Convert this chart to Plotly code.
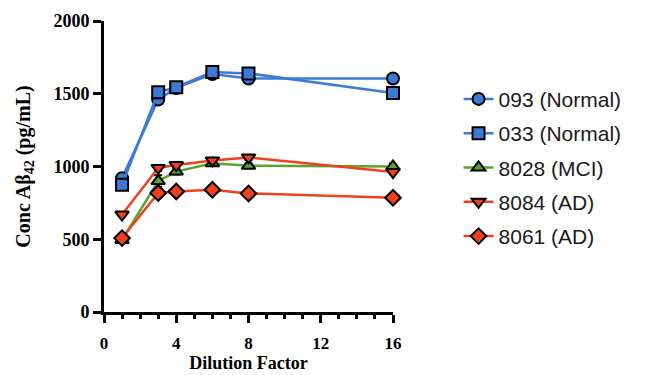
import plotly.graph_objects as go

x_vals = [1, 3, 4, 6, 8, 16]

s093 = [920, 1460, 1540, 1635, 1605, 1605]
s093_err = [15, 30, 10, 15, 15, 25]
s033 = [875, 1510, 1545, 1650, 1640, 1505]
s033_err = [10, 15, 10, 10, 10, 35]
s8028 = [495, 900, 965, 1022, 1005, 1000]
s8028_err = [10, 40, 20, 10, 15, 20]
s8084 = [670, 990, 1010, 1042, 1062, 962]
s8084_err = [10, 20, 15, 10, 15, 15]
s8061 = [508, 818, 828, 840, 815, 785]
s8061_err = [10, 10, 8, 8, 8, 10]

names = ["093 (Normal)", "033 (Normal)", "8028 (MCI)", "8084 (AD)", "8061 (AD)"]

BLUE = "#3b7bd6"
GREEN = "#5aa42e"
RED = "#f2401e"

series = [
    (s093, s093_err, names[0], BLUE, "circle", 12),
    (s033, s033_err, names[1], BLUE, "square", 12),
    (s8028, s8028_err, names[2], GREEN, "triangle-up", 12),
    (s8084, s8084_err, names[3], RED, "triangle-down", 12),
    (s8061, s8061_err, names[4], RED, "diamond", 12),
]

fig = go.Figure()
for i, (ys, errs, name, col, sym, sz) in enumerate(series):
    fig.add_trace(go.Scatter(
        x=x_vals, y=ys, name=name, mode="lines+markers",
        legendgroup=f"g{i}",
        line=dict(color=col, width=2.5),
        marker=dict(symbol=sym, size=sz, color=col, line=dict(color="black", width=2)),
        error_y=dict(type="data", array=errs, color="black", thickness=2, width=4),
        cliponaxis=False,
    ))

serif = "Liberation Serif, Times New Roman, serif"
fig.update_layout(
    width=656, height=375,
    margin=dict(l=104, r=263, t=21, b=63),
    plot_bgcolor="white", paper_bgcolor="white",
    showlegend=True,
    legend=dict(
        xref="container", yref="container", x=0.699, y=0.79,
        xanchor="left", yanchor="top",
        font=dict(family="Liberation Sans, Arial, sans-serif", size=21, color="#1a1a1a"),
        tracegroupgap=4, itemsizing="trace", bgcolor="rgba(0,0,0,0)",
    ),
    xaxis=dict(
        range=[0, 16], tickvals=[0, 4, 8, 12, 16],
        automargin=False,
        showline=True, linecolor="black", linewidth=3, mirror=False,
        ticks="outside", ticklen=8, tickwidth=3, tickcolor="black",
        ticklabelstandoff=6,
        minor=dict(dtick=1, ticks="outside", ticklen=4, tickwidth=3, tickcolor="black", showgrid=False),
        showgrid=False, zeroline=False,
        tickfont=dict(family=serif, size=17, color="black", weight="bold"),
        title=dict(text="Dilution Factor", standoff=4,
                   font=dict(family=serif, size=18, color="black", weight="bold")),
    ),
    yaxis=dict(
        range=[0, 2000], tickvals=[0, 500, 1000, 1500, 2000],
        automargin=False,
        showline=True, linecolor="black", linewidth=3,
        ticks="outside", ticklen=8, tickwidth=3, tickcolor="black",
        showgrid=False, zeroline=False,
        tickfont=dict(family=serif, size=18, color="black", weight="bold"),
        title=dict(text="Conc A\u03b2<sub>42</sub> (pg/mL)", standoff=18,
                   font=dict(family=serif, size=20, color="black", weight="bold")),
    ),
)

fig.write_html("out.html")
